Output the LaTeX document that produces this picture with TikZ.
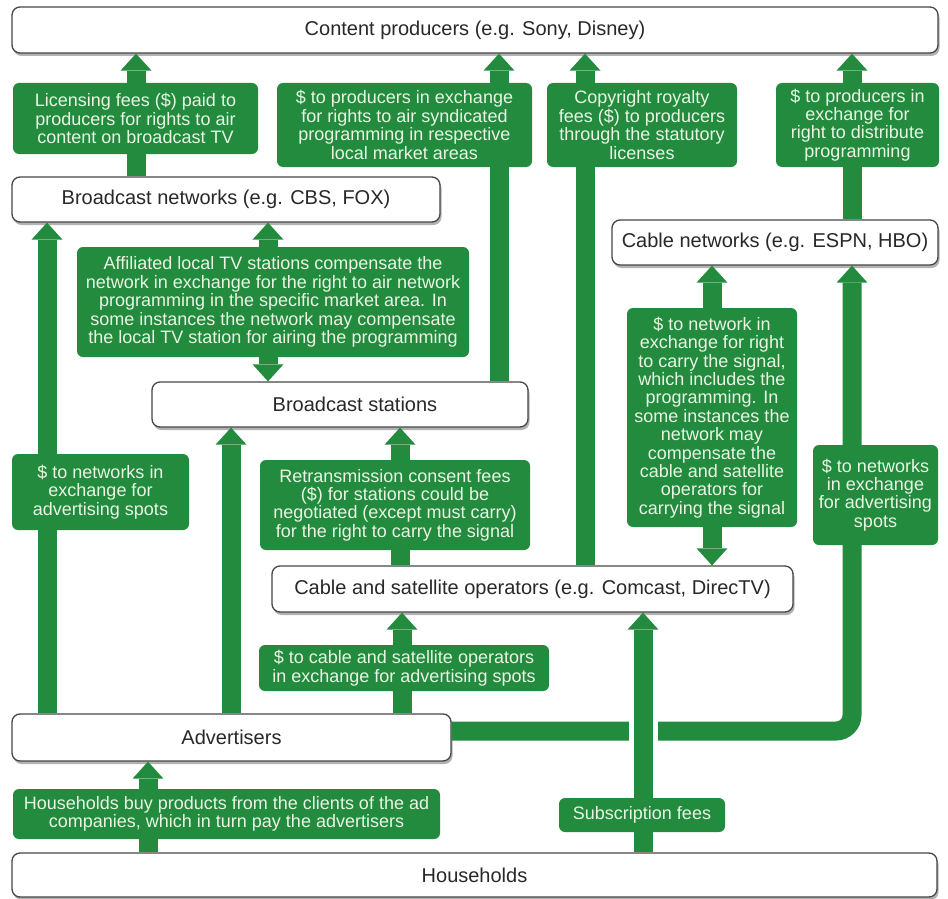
\documentclass[tikz,border=0pt]{standalone}
\usepackage{fontspec}
\setmainfont{Liberation Sans}
\usetikzlibrary{arrows.meta,shadows}
\definecolor{grn}{RGB}{34,139,62}
\definecolor{lbltxt}{RGB}{234,245,228}
\definecolor{bdr}{RGB}{70,70,70}
\definecolor{dtxt}{RGB}{40,40,40}
\begin{document}
\begin{tikzpicture}[x=1pt,y=-1pt,
  wbox/.style={draw=bdr, line width=1.3pt, fill=white, rounded corners=8pt, inner sep=0pt,
    text=dtxt, font=\fontsize{20}{22}\selectfont,
    drop shadow={shadow xshift=1.5pt, shadow yshift=-3pt, opacity=0.3, fill=black}},
  lbl/.style={fill=grn, rounded corners=6pt, inner sep=0pt, text=lbltxt, align=center,
    font=\fontsize{18}{18.4}\selectfont},
  flow/.style={draw=grn, line width=19pt, -{Triangle[width=31pt,length=17pt,line width=0pt]}},
  flowtwo/.style={draw=grn, line width=19pt,
    {Triangle[width=31pt,length=17pt,line width=0pt]}-{Triangle[width=31pt,length=17pt,line width=0pt]}},
  gapline/.style={draw=white, line width=29pt}
]
\useasboundingbox (0,0) rectangle (948,899);
\fill[white] (0,0) rectangle (948,899);

% white boxes
\node[wbox, minimum width=926pt, minimum height=46pt] (cp) at (475,30) {Content producers (e.g. Sony, Disney)};
\node[wbox, minimum width=428pt, minimum height=45pt] (bnet) at (226,199.5) {Broadcast networks (e.g. CBS, FOX)};
\node[wbox, minimum width=326pt, minimum height=45pt] (cnet) at (775,242.5) {Cable networks (e.g. ESPN, HBO)};
\node[wbox, minimum width=376pt, minimum height=45pt] (bst) at (340,404.5) {\hspace*{30pt}Broadcast stations};
\node[wbox, minimum width=521pt, minimum height=46pt] (cso) at (532.5,589) {Cable and satellite operators (e.g. Comcast, DirecTV)};
\node[wbox, minimum width=439pt, minimum height=47pt] (adv) at (231.5,737.5) {Advertisers};
\node[wbox, minimum width=925pt, minimum height=44pt] (hh) at (474.5,875) {Households};

% x positions of the flows
\coordinate (x1) at (136,0);
\coordinate (x2) at (499,0);
\coordinate (x3) at (585,0);
\coordinate (x4) at (852,0);
\coordinate (x5) at (47,0);
\coordinate (x6) at (268,0);
\coordinate (x7) at (231,0);
\coordinate (x8) at (400,0);
\coordinate (x9) at (712,0);
\coordinate (x11) at (402,0);
\coordinate (x12) at (148,0);
\coordinate (x13) at (643,0);
\coordinate (h) at (0,731);
\coordinate (g1) at (643,716);
\coordinate (g2) at (643,747);

% flows
\draw[flow] (bnet.north -| x1) -- (cp.south -| x1);
\draw[flow] (bst.north -| x2) -- (cp.south -| x2);
\draw[flow] (cso.north -| x3) -- (cp.south -| x3);
\draw[flow] (cnet.north -| x4) -- (cp.south -| x4);
\draw[flow] (adv.north -| x5) -- (bnet.south -| x5);
\draw[flowtwo] (bnet.south -| x6) -- (bst.north -| x6);
\draw[flow] (adv.north -| x7) -- (bst.south -| x7);
\draw[flow] (cso.north -| x8) -- (bst.south -| x8);
\draw[flowtwo] (cnet.south -| x9) -- (cso.north -| x9);
\draw[flow, rounded corners=16pt] (adv.east |- h) -- (h -| x4) -- (cnet.south -| x4);
\draw[flow] (adv.north -| x11) -- (cso.south -| x11);
\draw[flow] (hh.north -| x12) -- (adv.south -| x12);
\draw[gapline] (g1) -- (g2);
\draw[flow] (hh.north -| x13) -- (cso.south -| x13);

% labels
\node[lbl, minimum width=245pt, minimum height=71pt] (lic) at (135.5,118.5)
  {Licensing fees (\$) paid to\\producers for rights to air\\content on broadcast TV};
\node[lbl, minimum width=255pt, minimum height=84pt] (synd) at (404.5,125)
  {\$ to producers in exchange\\for rights to air syndicated\\programming in respective\\local market areas};
\node[lbl, minimum width=190pt, minimum height=84pt] (copy) at (642,125)
  {Copyright royalty\\fees (\$) to producers\\through the statutory\\licenses};
\node[lbl, minimum width=163pt, minimum height=84pt] (dist) at (857.5,125)
  {\$ to producers in\\exchange for\\right to distribute\\programming};
\node[lbl, minimum width=392pt, minimum height=110pt] (aff) at (273,302)
  {Affiliated local TV stations compensate the\\network in exchange for the right to air network\\programming in the specific market area. In\\some instances the network may compensate\\the local TV station for airing the programming};
\node[lbl, minimum width=170pt, minimum height=219pt] (cab) at (712,417.5)
  {\$ to network in\\exchange for right\\to carry the signal,\\which includes the\\programming. In\\some instances the\\network may\\compensate the\\cable and satellite\\operators for\\carrying the signal};
\node[lbl, minimum width=177pt, minimum height=76pt] (adsl) at (100.5,492)
  {\$ to networks in\\exchange for\\advertising spots};
\node[lbl, minimum width=270pt, minimum height=90pt] (retr) at (395,505)
  {Retransmission consent fees\\(\$) for stations could be\\negotiated (except must carry)\\for the right to carry the signal};
\node[lbl, minimum width=125pt, minimum height=100pt] (adsr) at (875.5,495)
  {\$ to networks\\in exchange\\for advertising\\spots};
\node[lbl, minimum width=290pt, minimum height=46pt] (cabads) at (404,668)
  {\$ to cable and satellite operators\\in exchange for advertising spots};
\node[lbl, minimum width=427pt, minimum height=50pt] (hhbuy) at (226.5,814)
  {Households buy products from the clients of the ad\\companies, which in turn pay the advertisers};
\node[lbl, minimum width=166pt, minimum height=34pt] (sub) at (642,815)
  {Subscription fees};
\end{tikzpicture}
\end{document}
